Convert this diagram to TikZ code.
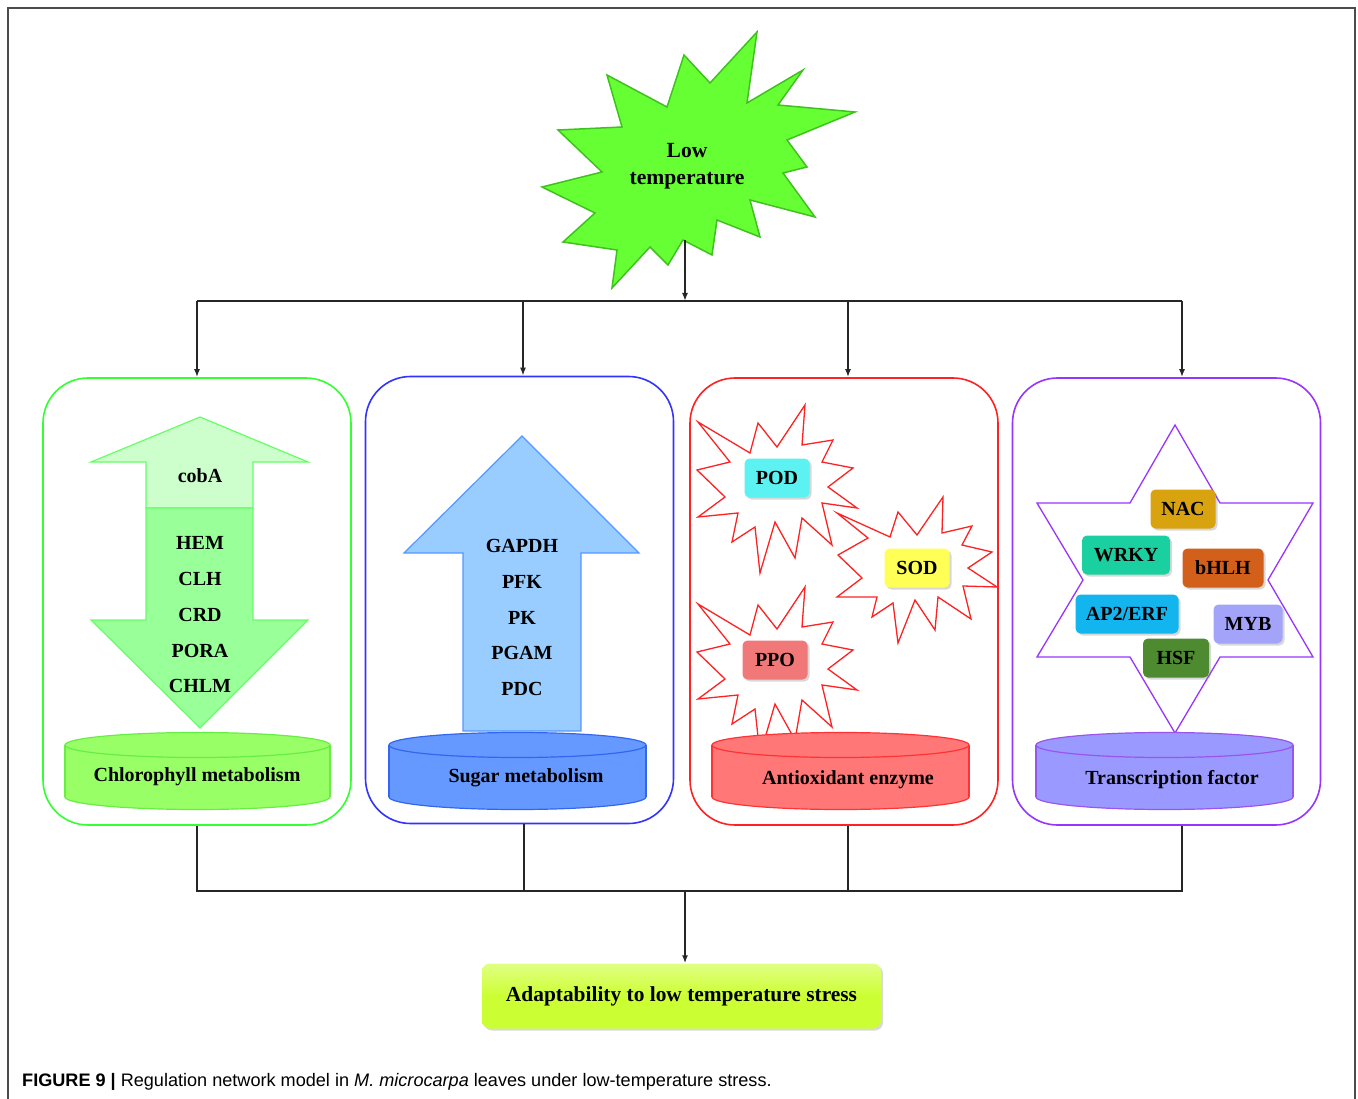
\documentclass[tikz,border=0pt]{standalone}
\usepackage{fontspec}
\setmainfont{Liberation Serif}
\newfontfamily\capfont{Liberation Sans}
\usetikzlibrary{arrows.meta,shadows,calc}

\definecolor{stargreen}{HTML}{66FF33}
\definecolor{stargreend}{HTML}{3FC21F}
\definecolor{pgreen}{HTML}{33FF33}
\definecolor{pblue}{HTML}{3333FF}
\definecolor{pred}{HTML}{FF2222}
\definecolor{ppurple}{HTML}{9933FF}
\definecolor{upgreen}{HTML}{CCFFCC}
\definecolor{downgreen}{HTML}{99FF99}
\definecolor{arrowgreen}{HTML}{66FF66}
\definecolor{upblue}{HTML}{99CCFF}
\definecolor{arrowblue}{HTML}{5599FF}
\definecolor{cylgreen}{HTML}{99FF66}
\definecolor{cylgreend}{HTML}{66EE44}
\definecolor{cylblue}{HTML}{6699FF}
\definecolor{cylblued}{HTML}{3366EE}
\definecolor{cylred}{HTML}{FF7777}
\definecolor{cylredd}{HTML}{FF3333}
\definecolor{cylpurple}{HTML}{9999FF}
\definecolor{cylpurpled}{HTML}{9955EE}
\definecolor{podcol}{HTML}{5CF2F2}
\definecolor{sodcol}{HTML}{FFFF55}
\definecolor{ppocol}{HTML}{F07878}
\definecolor{naccol}{HTML}{D9A20F}
\definecolor{wrkycol}{HTML}{1ACFA0}
\definecolor{bhlhcol}{HTML}{D2601A}
\definecolor{apcol}{HTML}{12B5EE}
\definecolor{mybcol}{HTML}{A3A3FA}
\definecolor{hsfcol}{HTML}{4E8A30}
\definecolor{adaptcol}{HTML}{CCFF33}

\tikzset{
  conn/.style={line width=1.6pt,black!85},
  arr/.style={conn,-{Latex[length=8pt,width=6pt]}},
  panel/.style={draw,fill=white,line width=1.6pt,rounded corners=45pt,minimum width=308pt,minimum height=447pt},
  gene/.style={font=\bfseries\fontsize{20}{24}\selectfont,inner sep=0pt},
  genebox/.style={gene,rounded corners=5pt,minimum height=39pt,drop shadow={shadow xshift=2pt,shadow yshift=-2pt,opacity=.3}},
  burstline/.style={draw=pred,fill=white,line width=1.3pt,line join=miter},
  cyltext/.style={font=\bfseries\fontsize{20}{24}\selectfont,inner sep=0pt}
}

\begin{document}
\begin{tikzpicture}[x=1pt,y=-1pt]
\useasboundingbox (0,0) rectangle (1358,1099);
% frame
\draw[line width=1.5pt,black!70] (8,1099) -- (8,8) -- (1355,8) -- (1355,1099);

% low temperature star
\draw[fill=stargreen,draw=stargreend,line width=1.5pt,line join=miter]
  (757,32) -- (710,83) -- (684,55) -- (667,107) -- (607,75) -- (622,127) -- (558,130)
  -- (602,172) -- (542,187) -- (595,213) -- (563,242) -- (617,250) -- (612,288)
  -- (650,247) -- (668,265) -- (683,240) -- (712,255) -- (717,220) -- (760,237)
  -- (750,200) -- (815,217) -- (783,173) -- (807,167) -- (787,140) -- (855,112)
  -- (778,105) -- (803,70) -- (747,103) -- cycle;
\node[align=center,font=\bfseries\fontsize{21.6}{27}\selectfont,inner sep=0pt] (lowtemp) at (687,166) {Low\\temperature};
\coordinate (starfoot) at (685,240);

% panels
\node[panel,draw=pgreen] (chloro) at (197,601.5) {};
\node[panel,draw=pblue] (sugar) at (519.5,600) {};
\node[panel,draw=pred] (antiox) at (844,601.5) {};
\node[panel,draw=ppurple] (tf) at (1166.5,601.5) {};

% connectors from the top
\coordinate (split) at (685,301);
\coordinate (d1) at (197,301);
\coordinate (d2) at (523,301);
\coordinate (d3) at (848,301);
\coordinate (d4) at (1182,301);
\draw[arr] (starfoot) -- (split);
\draw[conn] (d1) -- (d4);
\draw[arr] (d1) -- (d1 |- chloro.north);
\draw[arr] (d2) -- (d2 |- sugar.north);
\draw[arr] (d3) -- (d3 |- antiox.north);
\draw[arr] (d4) -- (d4 |- tf.north);

% chlorophyll arrows
\draw[fill=upgreen,draw=arrowgreen,line width=1.2pt] (200,417) -- (308,462) -- (253,462) -- (253,508) -- (146,508) -- (146,462) -- (91,462) -- cycle;
\draw[fill=downgreen,draw=arrowgreen,line width=1.2pt] (146,508) -- (253,508) -- (253,620) -- (308,620) -- (200,728) -- (91,620) -- (146,620) -- cycle;
\node[gene] (coba) at (200,476) {cobA};
\node[gene] (hem) at (200,543) {HEM};
\node[gene] (clh) at (200,579) {CLH};
\node[gene] (crd) at (200,615) {CRD};
\node[gene] (pora) at (200,651) {PORA};
\node[gene] (chlm) at (200,686) {CHLM};

% sugar arrow
\draw[fill=upblue,draw=arrowblue,line width=1.2pt] (522,436) -- (639,553) -- (581,553) -- (581,731) -- (463,731) -- (463,553) -- (404,553) -- cycle;
\node[gene] (gapdh) at (522,546) {GAPDH};
\node[gene] (pfk) at (522,582) {PFK};
\node[gene] (pk) at (522,618) {PK};
\node[gene] (pgam) at (522,653) {PGAM};
\node[gene] (pdc) at (522,689) {PDC};

% antioxidant bursts
\foreach \cy in {490,672}{
  \draw[burstline,shift={(777,\cy)}] (-79,-68) -- (-27,-37) -- (-19,-67) -- (0,-43) -- (28,-85) -- (25,-45)
    -- (56,-50) -- (45,-28) -- (76,-22) -- (51,-3) -- (80,18) -- (45,13) -- (55,55) -- (25,28)
    -- (18,68) -- (-2,32) -- (-17,83) -- (-22,37) -- (-45,52) -- (-39,23) -- (-79,27) -- (-52,7)
    -- (-80,-20) -- (-47,-28) -- cycle;
}
\draw[burstline] (837,513) -- (890,537) -- (898,512) -- (917,535) -- (943,497) -- (942,533) -- (972,526)
  -- (962,545) -- (992,552) -- (968,568) -- (997,587) -- (963,586) -- (971,619) -- (938,597)
  -- (935,630) -- (915,600) -- (898,643) -- (893,603) -- (872,617) -- (877,597) -- (837,597)
  -- (862,578) -- (838,555) -- (868,538) -- cycle;
\node[genebox,fill=podcol,minimum width=65pt] (pod) at (777,478) {POD};
\node[genebox,fill=sodcol,minimum width=65pt] (sod) at (917,568) {SOD};
\node[genebox,fill=ppocol,minimum width=65pt] (ppo) at (775,660) {PPO};

% transcription factor star
\draw[fill=white,draw=ppurple,line width=1.3pt] (1175,425) -- (1220,503) -- (1313,503) -- (1268,580) -- (1313,657) -- (1220,657)
  -- (1175,733) -- (1130,657) -- (1037,657) -- (1083,580) -- (1037,503) -- (1130,503) -- cycle;
\node[genebox,fill=naccol,minimum width=65pt] (nac) at (1183,509) {NAC};
\node[genebox,fill=wrkycol,minimum width=88pt] (wrky) at (1126,555) {WRKY};
\node[genebox,fill=bhlhcol,minimum width=81pt] (bhlh) at (1223,568) {bHLH};
\node[genebox,fill=apcol,minimum width=103pt] (ap2) at (1127,614) {AP2/ERF};
\node[genebox,fill=mybcol,minimum width=69pt] (myb) at (1248,624) {MYB};
\node[genebox,fill=hsfcol,minimum width=66pt] (hsf) at (1176,658) {HSF};

% cylinders
\foreach \xa/\xb/\fc/\dc in {65/330/cylgreen/cylgreend,389/646/cylblue/cylblued,712/969/cylred/cylredd,1036/1293/cylpurple/cylpurpled}{
  \draw[fill=\fc,draw=\dc,line width=1.2pt] ({(\xa+\xb)/2},797) ellipse [x radius={(\xb-\xa)/2},y radius=12.5];
  \fill[\fc] (\xa,745) rectangle (\xb,797);
  \draw[\dc,line width=1.2pt] (\xa,745) -- (\xa,797) (\xb,745) -- (\xb,797);
  \draw[fill=\fc,draw=\dc,line width=1.2pt] ({(\xa+\xb)/2},745) ellipse [x radius={(\xb-\xa)/2},y radius=12.5];
}
\node[cyltext] (chlorolab) at (197,777) {Chlorophyll metabolism};
\node[cyltext] (sugarlab) at (526,778) {Sugar metabolism};
\node[cyltext] (antioxlab) at (848,780) {Antioxidant enzyme};
\node[cyltext] (tflab) at (1172,780) {Transcription factor};

% adaptability box
\node[rounded corners=8pt,top color=adaptcol!60!white,bottom color=adaptcol,middle color=adaptcol,minimum width=399pt,minimum height=65pt,
  font=\bfseries\fontsize{21.4}{25}\selectfont,drop shadow={shadow xshift=2pt,shadow yshift=-2pt,opacity=.3}] (adapt) at (681.5,996) {Adaptability to low temperature stress};

% connectors to the bottom
\coordinate (merge) at (685,891);
\coordinate (b1) at (197,891);
\coordinate (b2) at (524,891);
\coordinate (b3) at (848,891);
\coordinate (b4) at (1182,891);
\draw[conn] (b1 |- chloro.south) -- (b1) -- (b4) -- (b4 |- tf.south);
\draw[conn] (b2 |- sugar.south) -- (b2);
\draw[conn] (b3 |- antiox.south) -- (b3);
\draw[arr] (merge) -- (merge |- adapt.north);

% caption
\node[anchor=west,inner sep=0pt,font=\capfont\fontsize{18.1}{21}\selectfont] (caption) at (22,1082)
  {{\bfseries FIGURE 9 |} Regulation network model in \textit{M. microcarpa} leaves under low-temperature stress.};
\end{tikzpicture}
\end{document}
